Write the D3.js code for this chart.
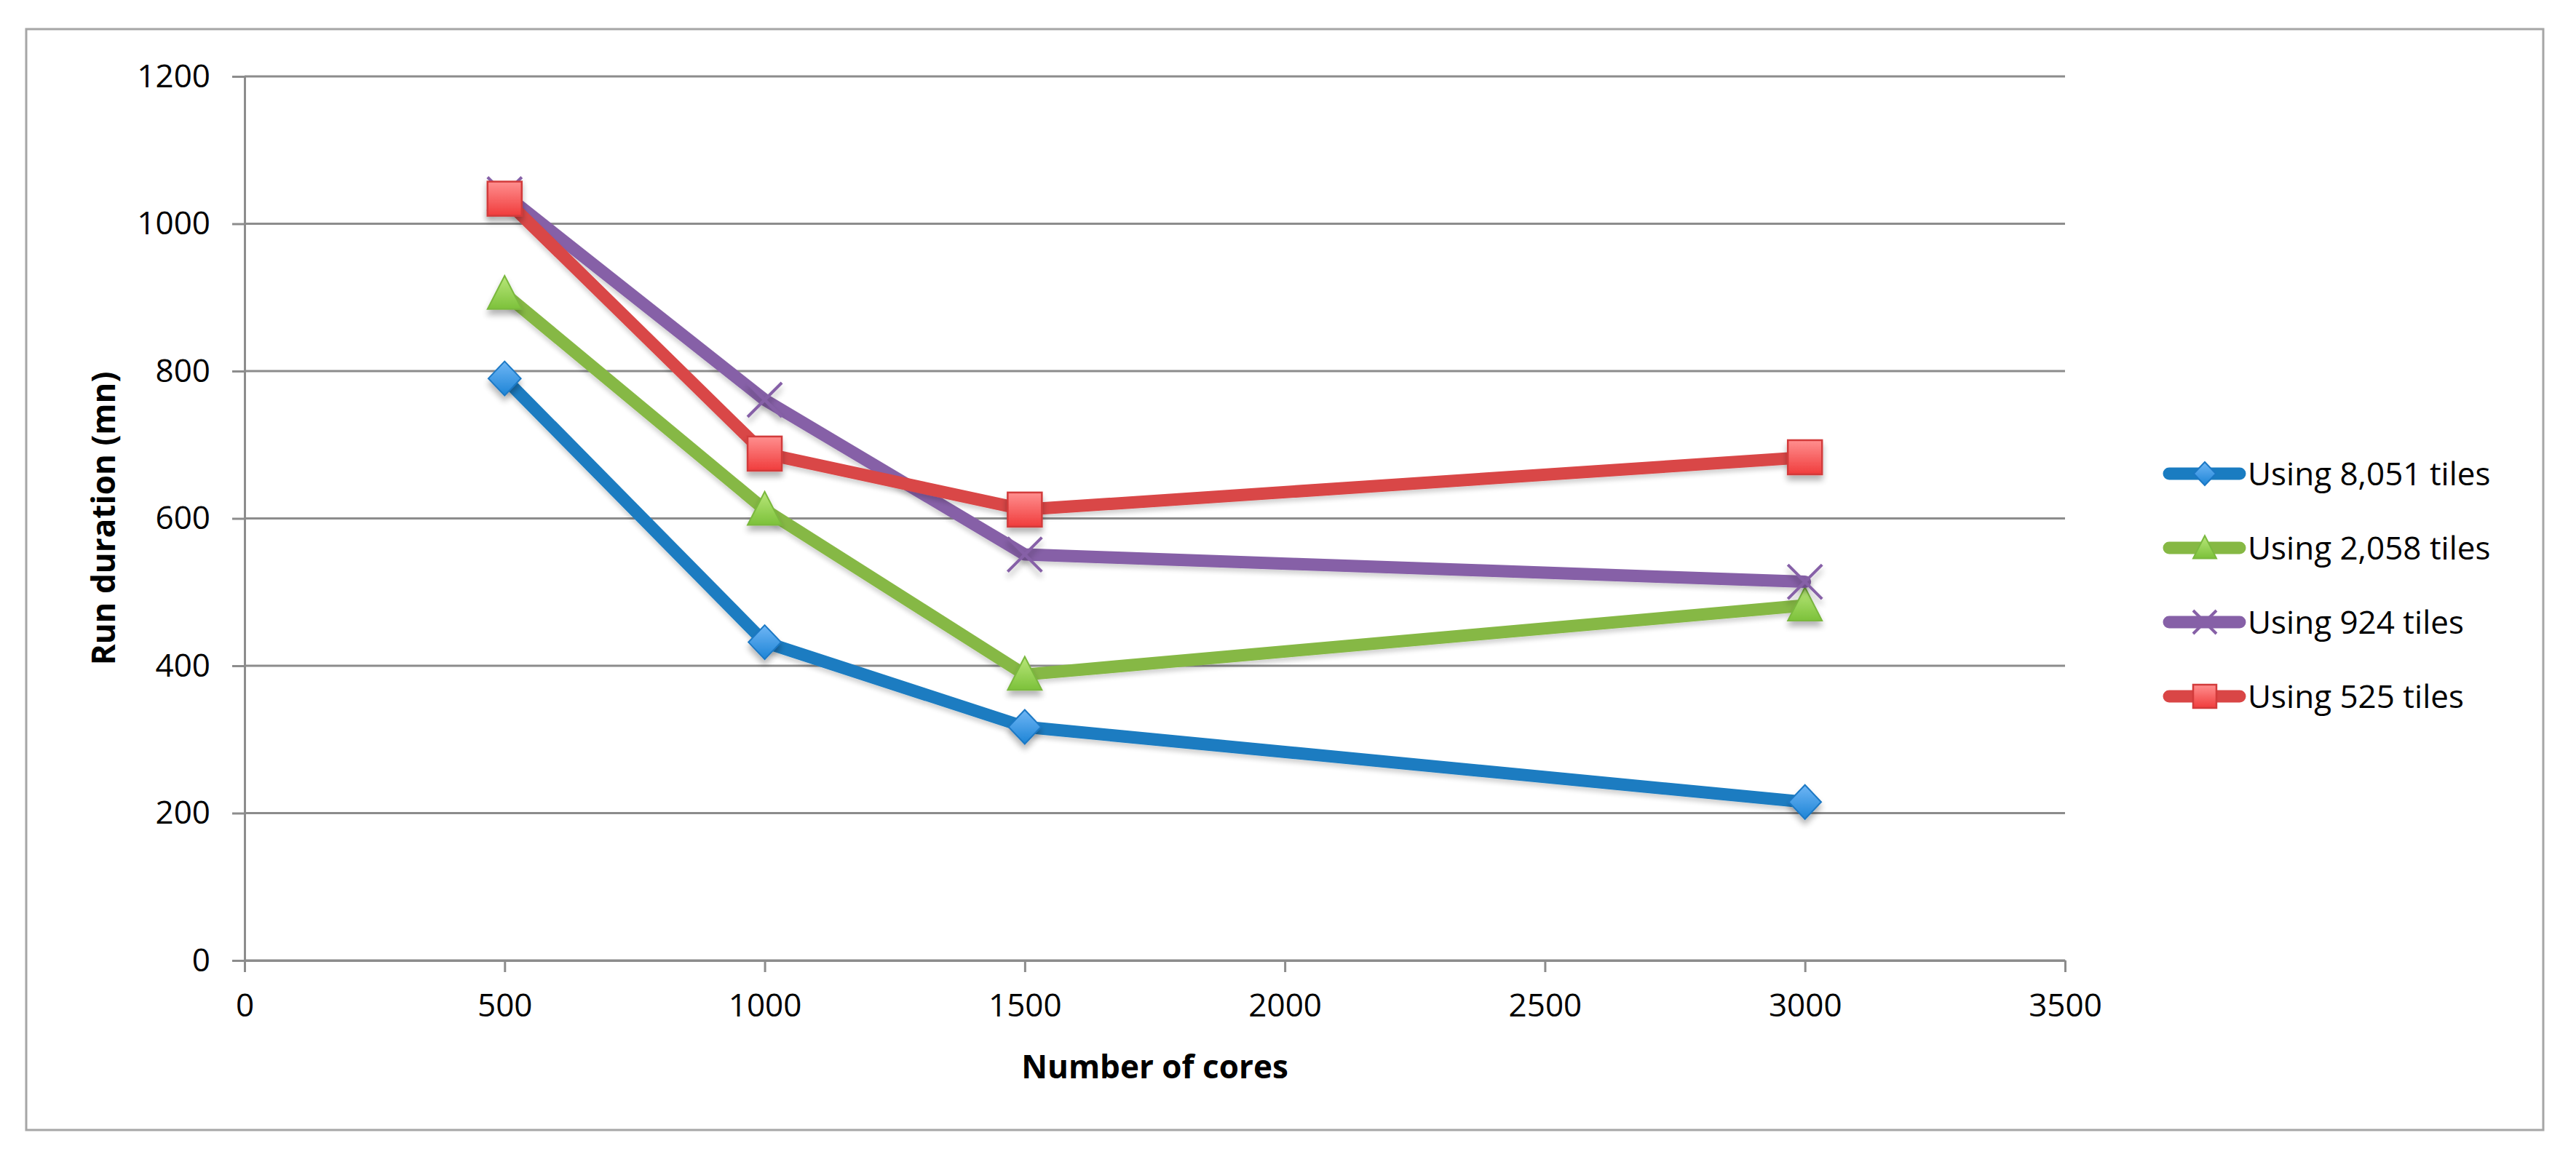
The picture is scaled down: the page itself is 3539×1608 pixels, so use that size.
<!DOCTYPE html>
<html>
<head>
<meta charset="utf-8">
<script src="https://cdn.jsdelivr.net/npm/d3@7"></script>
<style>
  html, body { margin: 0; padding: 0; background: #fff; }
  svg { display: block; font-family: "Open Sans", "Noto Sans", sans-serif; }
</style>
</head>
<body>
<svg id="chart" width="3539" height="1608"></svg>
<script>
// data
const cores = [500, 1000, 1500, 3000];
const tiles8051 = [790, 432, 317, 215];
const tiles2058 = [905, 612, 388, 482];
const tiles924 = [1040, 761, 551, 514];
const tiles525 = [1034, 688, 612, 683];

const seriesNames = ['Using 8,051 tiles', 'Using 2,058 tiles', 'Using 924 tiles', 'Using 525 tiles'];
const seriesValues = [tiles8051, tiles2058, tiles924, tiles525];
const seriesColors = ['#1a7cc1', '#86b844', '#8660a7', '#d94646'];
const seriesMarkers = ['diamond', 'triangle', 'cross', 'square'];

const xTicks = [0, 500, 1000, 1500, 2000, 2500, 3000, 3500];
const yTicks = [0, 200, 400, 600, 800, 1000, 1200];

const svg = d3.select('#chart');
const margin = { left: 336, right: 702, top: 105, bottom: 288 };
const W = 3539, H = 1608;

const x = d3.scaleLinear().domain([0, 3500]).range([margin.left, W - margin.right]);
const y = d3.scaleLinear().domain([0, 1200]).range([H - margin.bottom, margin.top]);

const defs = svg.append('defs');

// soft drop shadow, used on markers and lines
const shadow = defs.append('filter').attr('id', 'shadow')
    .attr('x', '-50%').attr('y', '-50%').attr('width', '200%').attr('height', '200%');
shadow.append('feGaussianBlur').attr('in', 'SourceAlpha').attr('stdDeviation', 4);
shadow.append('feOffset').attr('dx', 0).attr('dy', 7).attr('result', 'off');
shadow.append('feComponentTransfer').append('feFuncA').attr('type', 'linear').attr('slope', 0.3);
const merge = shadow.append('feMerge');
merge.append('feMergeNode');
merge.append('feMergeNode').attr('in', 'SourceGraphic');

const lineShadow = defs.append('filter').attr('id', 'lineShadow')
    .attr('x', '-10%').attr('y', '-10%').attr('width', '120%').attr('height', '130%');
lineShadow.append('feGaussianBlur').attr('in', 'SourceAlpha').attr('stdDeviation', 3);
lineShadow.append('feOffset').attr('dx', 0).attr('dy', 5);
lineShadow.append('feComponentTransfer').append('feFuncA').attr('type', 'linear').attr('slope', 0.18);
const merge2 = lineShadow.append('feMerge');
merge2.append('feMergeNode');
merge2.append('feMergeNode').attr('in', 'SourceGraphic');

// marker gradients (lighter on top, like the original)
const gradStops = {
    diamond: ['#6fb6f5', '#1d84d6'],
    triangle: ['#b9e77a', '#7cc13a'],
    square: ['#ff8f8f', '#f03c3c']
};
Object.entries(gradStops).forEach(([k, c]) => {
    const g = defs.append('linearGradient').attr('id', 'grad-' + k)
        .attr('x1', 0).attr('y1', 0).attr('x2', 0).attr('y2', 1);
    g.append('stop').attr('offset', '0%').attr('stop-color', c[0]);
    g.append('stop').attr('offset', '100%').attr('stop-color', c[1]);
});
const markerStroke = { diamond: '#1b78c4', triangle: '#7ab83e', square: '#d23b3b', cross: '#8660a7' };

// outer chart frame
svg.append('rect')
    .attr('x', 36).attr('y', 40)
    .attr('width', 3458).attr('height', 1513)
    .attr('fill', '#fff')
    .attr('stroke', '#a6a6a6')
    .attr('stroke-width', 3);

// grid lines
svg.append('g')
    .selectAll('line')
    .data(yTicks)
    .join('line')
    .attr('x1', x(0)).attr('x2', x(3500))
    .attr('y1', d => y(d)).attr('y2', d => y(d))
    .attr('stroke', '#8c8c8c')
    .attr('stroke-width', 3);

// y axis
const yAxis = svg.append('g')
    .attr('transform', `translate(${x(0)},0)`)
    .call(d3.axisLeft(y).tickValues(yTicks).tickFormat(d3.format('d'))
        .tickSize(17).tickPadding(30).tickSizeOuter(0));
// x axis
const xAxis = svg.append('g')
    .attr('transform', `translate(0,${y(0)})`)
    .call(d3.axisBottom(x).tickValues(xTicks).tickFormat(d3.format('d'))
        .tickSize(16).tickPadding(30).tickSizeOuter(0));

[yAxis, xAxis].forEach(a => {
    a.select('.domain').attr('stroke', '#8c8c8c').attr('stroke-width', 3);
    a.selectAll('.tick line').attr('stroke', '#8c8c8c').attr('stroke-width', 3);
    a.selectAll('.tick text')
        .attr('fill', '#000')
        .style('font-size', '44px')
        .style('font-family', '"Open Sans", sans-serif');
});

// axis titles
svg.append('text')
    .attr('x', x(1750)).attr('y', 1482)
    .attr('text-anchor', 'middle')
    .style('font-size', '44px').style('font-weight', 'bold')
    .text('Number of cores');

svg.append('text')
    .attr('transform', `translate(158,${y(600)}) rotate(-90)`)
    .attr('text-anchor', 'middle')
    .style('font-size', '44px').style('font-weight', 'bold')
    .text('Run duration (mn)');

// marker shapes
function drawMarker(g, type, size) {
    const h = size / 2;
    if (type === 'diamond') {
        g.append('path')
            .attr('d', `M0,${-h} L${h * 0.95},0 L0,${h} L${-h * 0.95},0 Z`)
            .attr('fill', 'url(#grad-diamond)')
            .attr('stroke', markerStroke.diamond).attr('stroke-width', 2);
    } else if (type === 'triangle') {
        g.append('path')
            .attr('d', `M0,${-h * 1.05} L${h},${h * 0.9} L${-h},${h * 0.9} Z`)
            .attr('fill', 'url(#grad-triangle)')
            .attr('stroke', markerStroke.triangle).attr('stroke-width', 2);
    } else if (type === 'square') {
        g.append('rect')
            .attr('x', -h).attr('y', -h).attr('width', size).attr('height', size)
            .attr('fill', 'url(#grad-square)')
            .attr('stroke', markerStroke.square).attr('stroke-width', 2.5);
    } else if (type === 'cross') {
        g.append('path')
            .attr('d', `M${-h},${-h} L${h},${h} M${h},${-h} L${-h},${h}`)
            .attr('fill', 'none')
            .attr('stroke', markerStroke.cross).attr('stroke-width', 4);
    }
}

const line = d3.line()
    .x((d, i) => x(cores[i]))
    .y(d => y(d));

seriesValues.forEach((vals, s) => {
    const g = svg.append('g').attr('class', 'series');
    g.append('path')
        .datum(vals)
        .attr('d', line)
        .attr('fill', 'none')
        .attr('stroke', seriesColors[s])
        .attr('stroke-width', 17)
        .attr('stroke-linejoin', 'round')
        .attr('stroke-linecap', 'round')
        .attr('filter', 'url(#lineShadow)');

    g.selectAll('g.pt')
        .data(vals)
        .join('g')
        .attr('class', 'pt')
        .attr('transform', (d, i) => `translate(${x(cores[i])},${y(d)})`)
        .attr('filter', 'url(#shadow)')
        .each(function () { drawMarker(d3.select(this), seriesMarkers[s], 47); });
});

// legend
const legend = svg.append('g').attr('transform', 'translate(2972,651)');
const rowH = 102;
seriesNames.forEach((name, s) => {
    const row = legend.append('g').attr('transform', `translate(0,${s * rowH})`);
    row.append('line')
        .attr('x1', 8).attr('x2', 105)
        .attr('stroke', seriesColors[s])
        .attr('stroke-width', 17)
        .attr('stroke-linecap', 'round');
    const m = row.append('g').attr('transform', 'translate(57,0)');
    drawMarker(m, seriesMarkers[s], 32);
    row.append('text')
        .attr('x', 116).attr('y', 0)
        .attr('dy', '0.36em')
        .style('font-size', '44px')
        .text(name);
});
</script>
</body>
</html>
